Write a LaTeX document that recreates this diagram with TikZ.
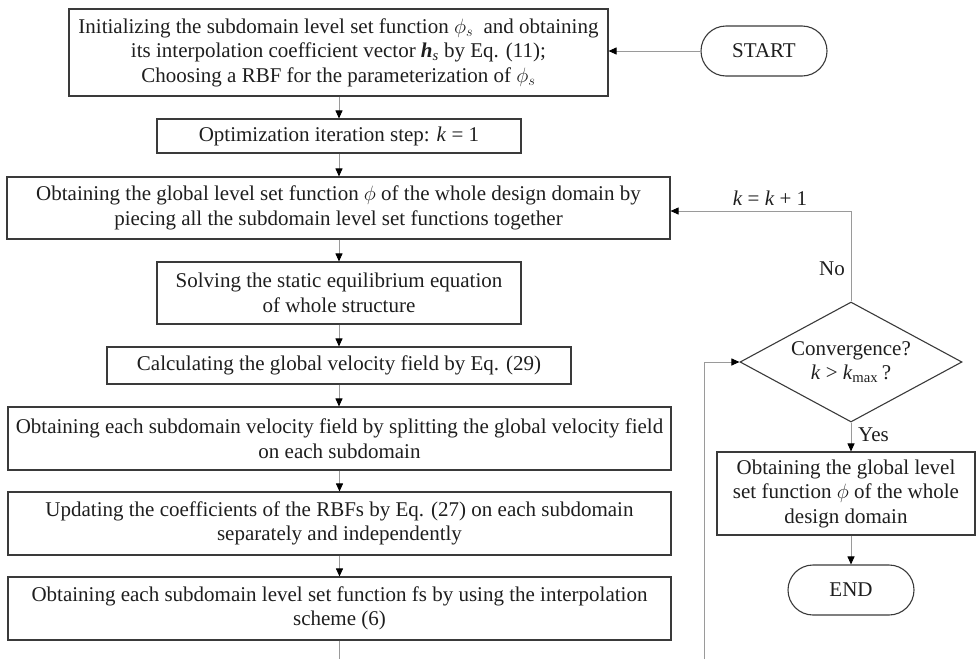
\documentclass[tikz,border=0pt]{standalone}
\usepackage{fontspec}
\setmainfont{Liberation Serif}
\usetikzlibrary{arrows.meta,shapes.geometric}
\definecolor{boxline}{HTML}{3A3A3A}
\definecolor{conline}{HTML}{9A9A9A}
\definecolor{txt}{HTML}{1E1E1E}
\begin{document}
\begin{tikzpicture}[x=1pt,y=-1pt,
  font=\fontsize{21}{24.5}\selectfont, text=txt,
  box/.style={draw=boxline, line width=1.1pt, inner sep=0pt, align=center},
  term/.style={box, rounded corners=25pt, minimum width=126pt, minimum height=50pt},
  decide/.style={draw=boxline, line width=1.1pt, diamond, aspect=1.85, inner sep=0pt, minimum width=222pt, minimum height=120pt, align=center},
  conn/.style={draw=conline, line width=0.9pt, -{Triangle[length=8pt,width=7pt,color=black]}},
  plain/.style={draw=conline, line width=0.9pt},
  lbl/.style={inner sep=0pt}]
\useasboundingbox (0,0) rectangle (976,659);

\node[box, minimum width=539pt, minimum height=87pt] (b1) at (338.5,52.5)
 {Initializing the subdomain level set function $\phi_s$\ \ and obtaining\\
  its interpolation coefficient vector \textbf{\textit{h}}\textsubscript{\textit{s}} by Eq. (11);\\
  Choosing a RBF for the parameterization of $\phi_s$};
\node[box, minimum width=364pt, minimum height=34pt] (b2) at (339,136)
 {Optimization iteration step: \textit{k} = 1};
\node[box, minimum width=663pt, minimum height=62pt] (b3) at (338.5,208)
 {Obtaining the global level set function $\phi$ of the whole design domain by\\
  piecing all the subdomain level set functions together};
\node[box, minimum width=364pt, minimum height=62pt] (b4) at (339,293)
 {Solving the static equilibrium equation\\ of whole structure};
\node[box, minimum width=464pt, minimum height=37pt] (b5) at (339,365.5)
 {Calculating the global velocity field by Eq. (29)};
\node[box, minimum width=663pt, minimum height=63pt] (b6) at (339.5,438.5)
 {Obtaining each subdomain velocity field by splitting the global velocity field\\
  on each subdomain};
\node[box, minimum width=663pt, minimum height=63pt] (b7) at (339.5,523.5)
 {Updating the coefficients of the RBFs by Eq. (27) on each subdomain\\
  separately and independently};
\node[box, minimum width=663pt, minimum height=63pt] (b8) at (339.5,608.5)
 {Obtaining each subdomain level set function fs by using the interpolation\\
  scheme (6)};

\node[term] (start) at (764,51) {START};
\node[decide] (dec) at (851,362) {Convergence?\\ \textit{k} > \textit{k}\textsubscript{max}\,?};
\node[box, minimum width=258pt, minimum height=83pt] (res) at (846,493.5)
 {Obtaining the global level\\ set function $\phi$ of the whole\\ design domain};
\node[term] (fin) at (851,590) {END};

\coordinate (back) at (851,211);
\coordinate (bot1) at (339.5,659);
\coordinate (bot2) at (704,659);

\draw[conn] (start.west) -- (start.west -| b1.east);
\draw[conn] (b1.south -| b2.north) -- (b2.north);
\draw[conn] (b2.south) -- (b2.south |- b3.north);
\draw[conn] (b3.south -| b4.north) -- (b4.north);
\draw[conn] (b4.south) -- (b4.south |- b5.north);
\draw[conn] (b5.south) -- (b5.south |- b6.north);
\draw[conn] (b6.south) -- (b7.north);
\draw[conn] (b7.south) -- (b8.north);
\draw[plain] (b8.south) -- (bot1);
\draw[conn] (dec.north) -- (back) -- (back -| b3.east);
\draw[conn] (bot2) |- (dec.west);
\draw[conn] (dec.south) -- (dec.south |- res.north);
\draw[conn] (res.south -| fin.north) -- (fin.north);

\node[lbl, anchor=south] (lk) at (770,206) {\textit{k} = \textit{k} + 1};
\node[lbl, anchor=east] (lno) at (845,269) {No};
\node[lbl, anchor=west] (lyes) at (858,435) {Yes};
\end{tikzpicture}
\end{document}
